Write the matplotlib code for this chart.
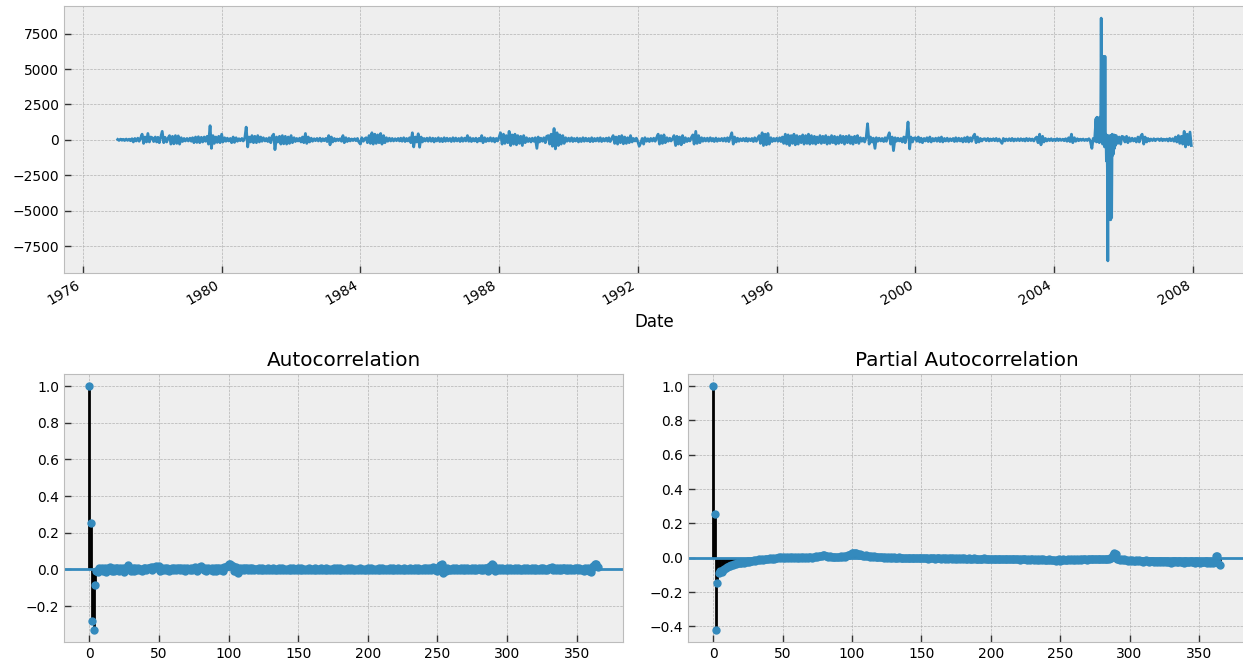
import numpy as np
import pandas as pd
import matplotlib
matplotlib.use("Agg")
import matplotlib.pyplot as plt
import matplotlib.dates as mdates

plt.style.use("bmh")

# ---------------- data: differenced daily series (semi-monthly samples) -------------
diff_1977_1981 = [
    30, -40, 50, -30, 40, -50, 60, -40, 50, -60, 80, -150, 100, -80, 120, -100, 150, 400, -250, 200, -150, 450, -150, 200,
    150, -120, 200, -150, 180, -200, 250, 600, -200, 180, -150, 120, 300, -300, 250, -280, 300, -250, 280, -300, 150, -120, 100, -80,
    100, -80, 120, -100, 150, -200, 200, -180, 220, -200, 180, -150, 200, -100, 250, -300, 1000, -600, 300, -250, 200, -180, 250, -200,
    400, -150, 150, -100, 120, -80, 100, -200, 200, -180, 150, -100, 80, -60, 100, -80, 150, 900, -500, 200, -150, 300, -200, 250,
    -200, 300, -150, 200, -100, 150, -80, 100, -120, 150, -200, 250, 400, -690, 200, -150, 250, -300, 300, -280, 250, -300, 200, -250,
]
diff_1982_1986 = [
    300, -200, 150, -120, 100, -80, 120, -150, 200, -200, 450, -250, 200, -150, 120, -100, 80, -60, 100, -80, 120, -100, 80, -60,
    100, -120, 300, -350, 200, -150, 100, -80, 60, -50, 80, -100, 300, -200, 150, -120, 100, -80, 60, -50, 80, -60, 100, -150,
    -300, 150, -100, 80, 150, -200, 300, -250, 500, -300, 400, -250, 350, -200, 450, -300, 300, -200, 150, -100, 120, -80, 100, -80,
    80, -60, 100, -80, 120, -100, 150, -120, 100, -80, 150, -200, 500, -500, 200, -150, 430, -520, 200, -150, 100, -80, 120, -100,
    150, -100, 120, -150, 100, -80, 150, -120, 100, -130, 150, -100, 120, -80, 100, -120, 150, -100, 130, -80, 100, -120, 150, -100,
]
diff_1987_1991 = [
    120, -80, 300, -100, 150, -120, 100, -80, 120, -150, 100, -80, 300, -200, 150, -120, 100, -80, 150, -100, 120, -150, 100, -80,
    200, 500, -300, 400, -250, 300, -200, 600, -400, 350, -300, 400, -350, 300, -250, 250, -400, 300, -200, 150, -120, 100, -150, 120,
    -100, 150, -600, 200, -150, 120, -100, 150, -200, 250, 300, -300, 400, -450, 800, -640, 500, -400, 350, -300, 300, -250, 150, -100,
    120, -100, 150, -120, 100, -80, 130, -150, 100, -120, 150, -100, 120, -80, 100, -130, 150, -120, 100, -80, 120, -100, 150, -120,
    100, -80, 120, -100, 150, -120, 100, 300, -250, 200, -300, 250, -200, 300, -280, 200, -250, 150, -200, 300, -150, 100, -80, 120,
]
diff_1992_1996 = [
    -150, -450, -200, 100, -300, 150, -100, 80, -120, 100, -80, 120, -100, 150, 400, -300, 300, -250, 350, -200, 150, -100, 120, -80,
    100, 300, -400, 250, -300, 200, -350, 300, -200, 150, -120, 100, -80, 150, 350, -300, 600, -250, 300, -200, 150, -100, 120, -80,
    120, -100, 150, -80, 100, -120, 130, -100, 80, -60, 100, -80, 120, -100, 150, -120, 200, 500, -300, 200, -150, 120, -100, 80,
    -60, 100, -80, 120, -100, 80, -60, 100, -120, 150, -100, 120, 300, -250, 500, -400, 400, -350, 450, -300, 150, -120, 100, -80,
    120, -100, 150, -120, 200, -250, 400, -300, 350, -400, 300, -250, 400, -350, 300, -300, 250, -200, 350, -300, 300, -250, 400, -300,
]
diff_1997_2001 = [
    300, -250, 250, -300, 200, -200, 300, -250, 250, -200, 300, -300, 200, -250, 300, -200, 250, -300, 200, -250, 300, -200, 250, -300,
    250, -200, 300, -250, 200, -300, 250, -200, 300, -250, 150, -100, 120, -150, 200, 1140, -300, 200, -150, 120, -600, 150, -100, 120,
    -80, 100, -120, 150, -100, 200, 500, -300, 200, -760, 150, -100, 120, -80, 100, -150, 200, -200, 300, 1260, -640, 200, -150, 120,
    150, -100, 200, -150, 120, -200, 100, -80, 150, -120, 200, -150, 100, -80, 120, -100, 150, -120, 200, -150, 100, -80, 120, -100,
    80, -60, 100, -120, 150, -100, 120, -80, 100, -150, 150, -120, 200, -150, 150, -100, 250, 400, -200, 200, -150, 100, -80, 60,
]
diff_2002_2005a = [
    80, -60, 100, -80, 60, -50, 80, -60, 100, -80, 60, -100, -250, 100, -80, 60, -50, 80, -60, 100, -80, 60, -50, 80,
    -60, 80, -50, 60, -80, 100, -60, 80, -50, 60, -80, 100, 200, -200, 400, -350, 250, -150, 100, -80, 60, -50, 80, -60,
    50, -60, 80, -50, 60, -40, 50, -60, 80, -100, 150, -120, 400, -200, 150, -100, 80, -60, 50, -40, 60, -50, 40, -50,
    80, -60, -600, 100, -80,
]
# 2005 event, every 5 days from mid-March 2005
diff_2005_event = [
    1500, -150, 1600, -100, 1550, 200, 1500, -200, 1600, 300, 1400, 8600, 1000, 5900, -300, 5900, 200, 5800, -500, 5900,
    -200, 400, -1500, 300, -2000, -8550, 300, -5650, 200, -5600, 300, -5650, 100, -5500, 400, -1100, 300, -1000, 350, -600,
    300, -400, 200,
]
diff_2005b_2007 = [
    300, -250, 200, -300, 250,
    200, -150, 250, -200, 150, -100, 120, -80, 100, -150, 200, -150, 250, 400, -300, 200, -150, 100, -80, 60, -50, 80, -60, 50,
    60, -50, 80, -60, 50, -40, 60, -80, 100, -60, 80, -100, 200, -150, 300, -250, 250, -300, 600, -500, 400, -350, 550, -400,
]

# ---------------- autocorrelation values (lags 0..365) ----------------
acf_vals = [
    1.0, 0.255, -0.28, -0.33, -0.085,
    -0.01, -0.015, 0.01, -0.005, 0.005, -0.01, 0.008, -0.012, 0.01, -0.005, 0.012, -0.01, 0.005, -0.008, 0.01,
    0.005, -0.01, 0.008, -0.006, 0.01, -0.012, 0.006, 0.012, 0.022, 0.01, -0.008, 0.005, -0.01, 0.008, -0.005, 0.01, -0.006, 0.004, -0.008, 0.006,
    0.008, -0.005, 0.01, 0.006, 0.012, -0.004, 0.015, 0.01, 0.018, 0.012, 0.02, -0.01, 0.008, -0.006, 0.01, -0.005, 0.006, -0.008, 0.004, 0.006,
    -0.005, 0.008, -0.006, 0.005, 0.006, -0.004, 0.008, -0.006, 0.005, -0.008, 0.006, 0.004, -0.005, 0.008, -0.004, 0.006, 0.012, -0.008, 0.01, 0.015,
    0.018, 0.008, -0.006, 0.005, -0.008, 0.006, 0.004, -0.005, 0.008, -0.01, 0.006, -0.008, 0.005, 0.008, -0.006, 0.01, -0.008, 0.012, 0.015, 0.02,
    0.028, 0.03, 0.025, 0.018, -0.01, 0.012, -0.015, -0.02, 0.008, -0.006, 0.01, -0.005, 0.008, 0.006, -0.006, 0.005, -0.004, 0.006, -0.005, 0.004,
    0.004, -0.005, 0.006, -0.003, 0.005, -0.006, 0.004, -0.002, 0.006, -0.005, 0.003, -0.004, 0.005, -0.006, 0.004, -0.003, 0.005, -0.004, 0.006, -0.005,
    0.003, -0.006, 0.004, -0.005, 0.006, -0.003, 0.005, -0.004, 0.003, -0.006, 0.005, -0.004, 0.006, -0.003, 0.004, -0.005, 0.003, -0.004, 0.005, -0.006,
    0.004, -0.003, 0.006, -0.005, 0.003, -0.004, 0.005, -0.006, 0.004, -0.003, 0.006, -0.005, 0.004, -0.006, 0.003, -0.004, 0.005, -0.003, 0.006, -0.004,
    0.005, -0.006, 0.003, -0.005, 0.004, -0.003, 0.006, -0.004, 0.005, -0.006, 0.003, -0.005, 0.004, -0.003, 0.006, -0.005, 0.004, -0.006, 0.003, -0.004,
    0.005, -0.004, 0.006, -0.003, 0.004, -0.005, 0.003, -0.006, 0.005, -0.004, 0.006, -0.003, 0.004, -0.005, 0.003, -0.006, 0.005, -0.004, 0.006, -0.003,
    0.004, -0.005, 0.006, -0.004, 0.003, -0.006, 0.005, -0.003, 0.004, -0.005, 0.006, -0.004, 0.003, -0.006, 0.005, -0.004, 0.006, -0.003, 0.004, -0.005,
    0.006, -0.004, 0.005, -0.006, 0.008, -0.005, 0.01, 0.012, -0.006, 0.008, -0.01, 0.015, 0.025, 0.032, -0.018, 0.01, -0.008, 0.006, -0.005, 0.004,
    -0.006, 0.005, -0.004, 0.006, -0.005, 0.004, -0.006, 0.005, -0.003, 0.006, -0.004, 0.005, -0.006, 0.004, -0.005, 0.006, -0.004, 0.005, -0.006, 0.004,
    0.006, -0.005, 0.008, -0.006, 0.005, 0.008, -0.008, 0.012, 0.02, 0.03, 0.025, -0.01, 0.008, -0.006, 0.005, -0.004, 0.006, -0.005, 0.004, -0.006,
    0.005, -0.004, 0.006, -0.005, 0.004, -0.006, 0.005, -0.004, 0.006, -0.003, 0.004, -0.005, 0.006, -0.004, 0.005, -0.006, 0.004, -0.005, 0.006, -0.004,
    0.005, -0.006, 0.004, -0.005, 0.006, -0.004, 0.005, -0.006, 0.004, -0.005, 0.008, 0.01, 0.012, -0.006, 0.008, -0.005, 0.006, -0.004, 0.005, -0.006,
    0.008, 0.01, -0.006, 0.005, -0.004, 0.006, -0.005, 0.004, -0.006, 0.005, 0.008, -0.006, 0.006, -0.005, 0.004, -0.008, 0.006, -0.005, 0.008, -0.01,
    -0.012, 0.01, 0.02, 0.03, 0.028, 0.015,
]
pacf_vals = [
    1.0, 0.255, -0.42, -0.15, -0.09,
    -0.08, -0.085, -0.07, -0.065, -0.06, -0.055, -0.05, -0.048, -0.045, -0.04, -0.035, -0.038, -0.03, -0.032, -0.028,
    -0.03, -0.025, -0.028, -0.022, -0.025, -0.02, -0.022, -0.018, -0.02, -0.015, -0.018, -0.012, -0.015, -0.01, -0.012, -0.008, -0.012, -0.006, -0.01, -0.005,
    -0.008, -0.004, -0.006, -0.002, -0.005, 0.0, -0.004, 0.002, -0.003, 0.003, -0.002, 0.002, -0.004, 0.003, -0.002, 0.004, -0.003, 0.002, -0.004, 0.003,
    -0.002, 0.003, -0.004, 0.002, -0.003, 0.004, -0.002, 0.003, -0.004, 0.002, 0.005, -0.002, 0.006, 0.004, 0.008, 0.006, 0.01, 0.012, 0.008, 0.014,
    0.015, 0.01, 0.012, 0.006, 0.008, 0.004, 0.006, 0.002, 0.005, 0.003, 0.006, 0.004, 0.008, 0.005, 0.01, 0.006, 0.012, 0.015, 0.018, 0.022,
    0.028, 0.03, 0.025, 0.03, 0.022, 0.018, 0.02, 0.015, 0.012, 0.01, 0.014, 0.008, 0.012, 0.006, 0.01, 0.005, 0.008, 0.004, 0.006, 0.003,
    0.005, 0.002, 0.004, 0.001, 0.003, 0.0, 0.002, -0.001, 0.003, 0.0, 0.002, -0.002, 0.001, -0.001, 0.002, -0.003, 0.0, -0.002, 0.001, -0.003,
    -0.001, -0.002, 0.0, -0.003, -0.001, -0.004, -0.002, -0.003, 0.0, -0.004, -0.002, -0.003, -0.001, -0.004, -0.002, -0.005, -0.003, -0.002, -0.004, -0.003,
    -0.005, -0.002, -0.004, -0.003, -0.005, -0.002, -0.004, -0.006, -0.003, -0.005, -0.002, -0.004, -0.006, -0.003, -0.005, -0.004, -0.006, -0.003, -0.005, -0.004,
    -0.006, -0.004, -0.005, -0.007, -0.004, -0.006, -0.005, -0.007, -0.004, -0.006, -0.005, -0.008, -0.005, -0.007, -0.006, -0.004, -0.007, -0.005, -0.008, -0.006,
    -0.007, -0.005, -0.008, -0.006, -0.009, -0.007, -0.006, -0.008, -0.01, -0.007, -0.009, -0.006, -0.008, -0.01, -0.007, -0.009, -0.008, -0.01, -0.007, -0.009,
    -0.008, -0.011, -0.009, -0.007, -0.01, -0.008, -0.012, -0.009, -0.011, -0.008, -0.01, -0.012, -0.009, -0.011, -0.01, -0.013, -0.009, -0.012, -0.01, -0.014,
    -0.011, -0.013, -0.01, -0.015, -0.012, -0.014, -0.011, -0.016, -0.013, -0.01, -0.018, -0.012, -0.008, -0.015, -0.011, -0.014, -0.01, -0.012, -0.009, -0.013,
    -0.01, -0.012, -0.008, -0.011, -0.009, -0.012, -0.008, -0.01, -0.007, -0.011, -0.009, -0.006, -0.01, -0.008, -0.005, -0.009, -0.007, -0.01, -0.006, -0.008,
    -0.009, -0.006, -0.01, -0.007, -0.005, -0.008, -0.004, 0.0, 0.015, 0.03, 0.02, -0.005, -0.01, -0.012, -0.008, -0.014, -0.01, -0.015, -0.012, -0.016,
    -0.014, -0.018, -0.012, -0.016, -0.02, -0.015, -0.018, -0.013, -0.02, -0.016, -0.022, -0.018, -0.015, -0.02, -0.024, -0.017, -0.021, -0.019, -0.025, -0.018,
    -0.022, -0.02, -0.026, -0.019, -0.023, -0.021, -0.027, -0.02, -0.024, -0.022, -0.028, -0.021, -0.025, -0.019, -0.023, -0.026, -0.02, -0.024, -0.022, -0.028,
    -0.021, -0.025, -0.023, -0.027, -0.02, -0.024, -0.022, -0.028, -0.021, -0.026, -0.024, -0.03, -0.022, -0.027, -0.025, -0.02, -0.028, -0.024, -0.03, -0.026,
    -0.032, -0.025, 0.01, 0.012, -0.03, -0.04,
]

# ---------------- build the date index ----------------
part_a = (diff_1977_1981 + diff_1982_1986 + diff_1987_1991 + diff_1992_1996
          + diff_1997_2001 + diff_2002_2005a)
dates_a = pd.date_range("1977-01-01", periods=len(part_a), freq="SMS")
dates_ev = pd.date_range("2005-03-16", periods=len(diff_2005_event), freq="5D")
dates_b = pd.date_range("2005-10-15", periods=len(diff_2005b_2007), freq="SMS")
series = pd.concat([
    pd.Series(part_a, index=dates_a),
    pd.Series(diff_2005_event, index=dates_ev),
    pd.Series(diff_2005b_2007, index=dates_b),
]).sort_index()

blue = "#348ABD"

fig = plt.figure(figsize=(12.43, 6.64), dpi=100)
W, H = 1243.0, 664.0
ax_ts = fig.add_axes([64 / W, 1 - 273 / H, (1245 - 64) / W, (273 - 6) / H])
ax_acf = fig.add_axes([64 / W, 1 - 642 / H, (623 - 64) / W, (642 - 374) / H])
ax_pacf = fig.add_axes([688 / W, 1 - 642 / H, (1245 - 688) / W, (642 - 374) / H])

ax_ts.plot(series.index, series.values, color=blue, lw=2)
ax_ts.xaxis.set_major_locator(mdates.YearLocator(4))
ax_ts.xaxis.set_major_formatter(mdates.DateFormatter("%Y"))
for lab in ax_ts.get_xticklabels():
    lab.set_rotation(30)
    lab.set_ha("right")
ax_ts.set_xlabel("Date")


def corr_plot(ax, vals, title):
    lags = np.arange(len(vals))
    ax.vlines(lags, 0, vals, colors="k", lw=2)
    ax.axhline(0, color=blue, lw=2)
    ax.margins(0.05)
    ax.plot(lags, vals, marker="o", markersize=5, linestyle="None", color=blue)
    ax.set_title(title)


corr_plot(ax_acf, acf_vals, "Autocorrelation")
corr_plot(ax_pacf, pacf_vals, "Partial Autocorrelation")

for ax in (ax_ts, ax_acf, ax_pacf):
    ax.tick_params(direction="in", length=5, width=1, color="#333333")

fig.savefig("out.png", dpi=100)
